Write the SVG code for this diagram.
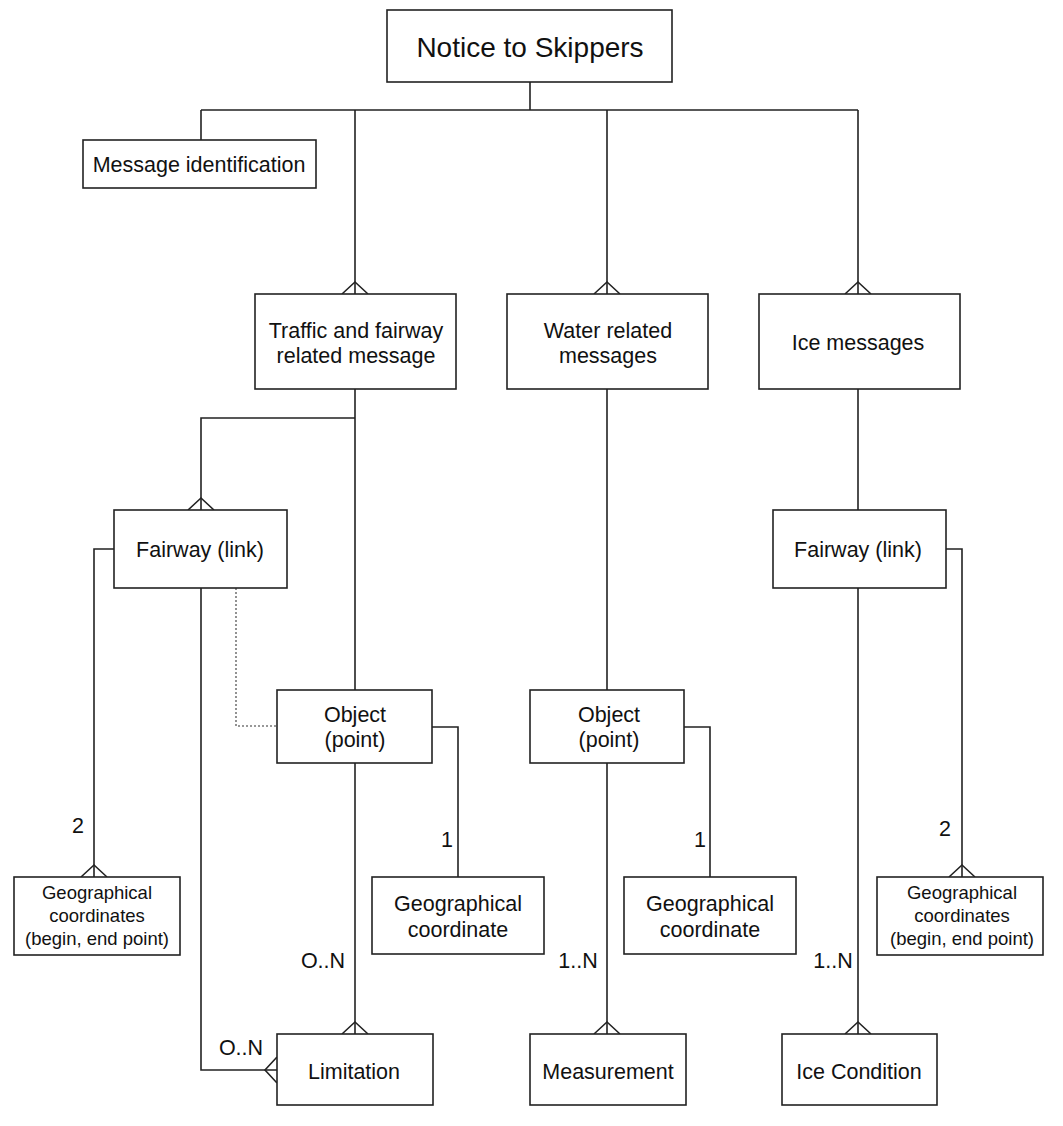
<svg xmlns="http://www.w3.org/2000/svg" width="1063" height="1126" viewBox="0 0 1063 1126">
<style>
.box{fill:#fff;stroke:#222;stroke-width:1.6}
.ln{fill:none;stroke:#222;stroke-width:1.6}
.dot{fill:none;stroke:#777;stroke-width:1.6;stroke-dasharray:2 2}
text{font-family:"Liberation Sans",Arial,sans-serif;fill:#111;text-anchor:middle}
.t20{font-size:21.5px}
.t17{font-size:18.5px}
.t26{font-size:28px}
</style>
<rect width="1063" height="1126" fill="#fff"/>
<g id="connectors">
<path class="ln" d="M530 82V110M201 110H858M201 110V140M355 110V294M607 110V294M858 110V294"/>
<path class="ln" d="M355 389V690M355 418H201V510"/>
<path class="ln" d="M114 549H94V877"/>
<path class="ln" d="M201 588V1070H277"/>
<path class="dot" d="M236 588V726H277"/>
<path class="ln" d="M355 763V1034"/>
<path class="ln" d="M432 727H458V877"/>
<path class="ln" d="M607 389V690M607 763V1034"/>
<path class="ln" d="M684 727H710V877"/>
<path class="ln" d="M858 389V510M858 588V1034"/>
<path class="ln" d="M946 549H962V877"/>
<g class="ln">
<path d="M342 294L355 282L368 294"/>
<path d="M594 294L607 282L620 294"/>
<path d="M845 294L858 282L871 294"/>
<path d="M188 510L201 498L214 510"/>
<path d="M81 877L94 865L107 877"/>
<path d="M949 877L962 865L975 877"/>
<path d="M342 1034L355 1022L368 1034"/>
<path d="M594 1034L607 1022L620 1034"/>
<path d="M845 1034L858 1022L871 1034"/>
<path d="M277 1057L265 1070L277 1083"/>
</g>
<text class="t20" x="78" y="833">2</text>
<text class="t20" x="447" y="847">1</text>
<text class="t20" x="700" y="847">1</text>
<text class="t20" x="945" y="836">2</text>
<text class="t20" x="323" y="968">O..N</text>
<text class="t20" x="578" y="968">1..N</text>
<text class="t20" x="833" y="968">1..N</text>
<text class="t20" x="241" y="1055">O..N</text>
</g>
<g id="notice"><rect class="box" x="387" y="10" width="285" height="72"/><text class="t26" x="530" y="57">Notice to Skippers</text></g>
<g id="msgid"><rect class="box" x="83" y="140" width="233" height="48"/><text class="t20" x="199" y="172">Message identification</text></g>
<g id="traffic"><rect class="box" x="255" y="294" width="201" height="95"/><text class="t20" x="356" y="338">Traffic and fairway</text><text class="t20" x="356" y="363">related message</text></g>
<g id="water"><rect class="box" x="507" y="294" width="201" height="95"/><text class="t20" x="608" y="338">Water related</text><text class="t20" x="608" y="363">messages</text></g>
<g id="ice"><rect class="box" x="759" y="294" width="201" height="95"/><text class="t20" x="858" y="350">Ice messages</text></g>
<g id="fairway1"><rect class="box" x="114" y="510" width="173" height="78"/><text class="t20" x="200" y="557">Fairway (link)</text></g>
<g id="fairway2"><rect class="box" x="773" y="510" width="173" height="78"/><text class="t20" x="858" y="557">Fairway (link)</text></g>
<g id="object1"><rect class="box" x="277" y="690" width="155" height="73"/><text class="t20" x="355" y="722">Object</text><text class="t20" x="355" y="747">(point)</text></g>
<g id="object2"><rect class="box" x="530" y="690" width="154" height="73"/><text class="t20" x="609" y="722">Object</text><text class="t20" x="609" y="747">(point)</text></g>
<g id="geos1"><rect class="box" x="14" y="877" width="166" height="78"/><text class="t17" x="97" y="899">Geographical</text><text class="t17" x="97" y="922">coordinates</text><text class="t17" x="97" y="945">(begin, end point)</text></g>
<g id="geo1"><rect class="box" x="372" y="877" width="172" height="77"/><text class="t20" x="458" y="911">Geographical</text><text class="t20" x="458" y="937">coordinate</text></g>
<g id="geo2"><rect class="box" x="624" y="877" width="172" height="77"/><text class="t20" x="710" y="911">Geographical</text><text class="t20" x="710" y="937">coordinate</text></g>
<g id="geos2"><rect class="box" x="877" y="877" width="166" height="78"/><text class="t17" x="962" y="899">Geographical</text><text class="t17" x="962" y="922">coordinates</text><text class="t17" x="962" y="945">(begin, end point)</text></g>
<g id="limitation"><rect class="box" x="277" y="1034" width="156" height="71"/><text class="t20" x="354" y="1079">Limitation</text></g>
<g id="measurement"><rect class="box" x="530" y="1034" width="156" height="71"/><text class="t20" x="608" y="1079">Measurement</text></g>
<g id="icecond"><rect class="box" x="782" y="1034" width="155" height="71"/><text class="t20" x="859" y="1079">Ice Condition</text></g>
</svg>
